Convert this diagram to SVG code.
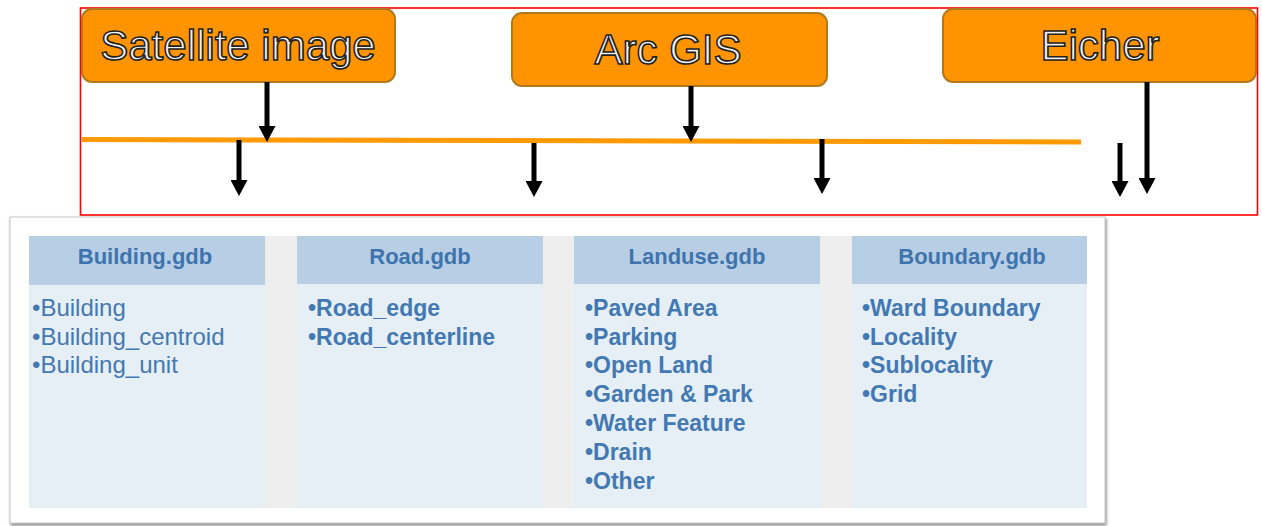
<svg xmlns="http://www.w3.org/2000/svg" width="1262" height="526" viewBox="0 0 1262 526">
<style>
.src{fill:#FF9400;stroke:#B07A1C;stroke-width:2}
.title{font-family:"Liberation Sans",Arial,sans-serif;font-size:42px;fill:#F2F2F2;stroke:#222222;stroke-width:1.6;text-anchor:middle}
.hdr{fill:#B8CEE4}
.body{fill:#E6EEF6}
.htxt{font-family:"Liberation Sans",Arial,sans-serif;font-size:22px;font-weight:bold;fill:#3E74AE;text-anchor:middle}
.item{font-family:"Liberation Sans",Arial,sans-serif;font-size:23px;font-weight:bold;fill:#4379B2}
.reg{font-weight:normal;font-size:24px}
.arr{stroke:#000;stroke-width:5;fill:none;marker-end:url(#ah)}
</style>
<defs>
<marker id="ah" markerUnits="userSpaceOnUse" markerWidth="17" markerHeight="17" refX="8" refY="8.5" orient="auto" viewBox="0 0 17 17">
<path d="M0,0 L16,8.5 L0,17 Z" fill="#000"/>
</marker>
<filter id="sh" x="-5%" y="-5%" width="110%" height="115%">
<feDropShadow dx="1" dy="2" stdDeviation="1.5" flood-color="#666" flood-opacity="0.8"/>
</filter>
</defs>
<rect width="1262" height="526" fill="#FFFFFF"/>
<rect x="80.5" y="8" width="1177" height="207" fill="none" stroke="#FF0000" stroke-width="1.6"/>
<g id="satellite">
<rect class="src" x="82" y="9" width="313" height="73" rx="10"/>
<text class="title" x="238" y="60">Satellite image</text>
</g>
<g id="arcgis">
<rect class="src" x="512" y="13" width="315" height="73" rx="10"/>
<text class="title" x="668" y="64">Arc GIS</text>
</g>
<g id="eicher">
<rect class="src" x="943" y="9" width="313" height="73" rx="10"/>
<text class="title" x="1100" y="60">Eicher</text>
</g>
<g id="connectors">
<line x1="82" y1="139.5" x2="1081" y2="142" stroke="#FF9A00" stroke-width="5"/>
<line class="arr" x1="267" y1="82" x2="267" y2="134"/>
<line class="arr" x1="691" y1="86" x2="691" y2="134"/>
<line class="arr" x1="1147" y1="82" x2="1147" y2="186"/>
<line class="arr" x1="239" y1="140" x2="239" y2="188"/>
<line class="arr" x1="534" y1="143" x2="534" y2="189"/>
<line class="arr" x1="822" y1="139" x2="822" y2="186"/>
<line class="arr" x1="1120" y1="143" x2="1120" y2="189"/>
</g>
<g id="panel">
<rect x="10" y="217" width="1095" height="306" fill="#FFFFFF" stroke="#C8C8C8" stroke-width="1" filter="url(#sh)"/>
<rect x="29" y="236" width="1058" height="272" fill="#EEEEEE"/>
</g>
<g id="building">
<rect class="hdr" x="29" y="236" width="236" height="49"/>
<rect class="body" x="29" y="285" width="236" height="223"/>
<text class="htxt" x="145" y="264">Building.gdb</text>
<text class="item reg" x="32" y="316">•Building</text>
<text class="item reg" x="32" y="345">•Building_centroid</text>
<text class="item reg" x="32" y="373">•Building_unit</text>
</g>
<g id="road">
<rect class="hdr" x="297" y="236" width="246" height="48"/>
<rect class="body" x="297" y="284" width="246" height="224"/>
<text class="htxt" x="420" y="264">Road.gdb</text>
<text class="item" x="308" y="316">•Road_edge</text>
<text class="item" x="308" y="345">•Road_centerline</text>
</g>
<g id="landuse">
<rect class="hdr" x="574" y="236" width="246" height="48"/>
<rect class="body" x="574" y="284" width="246" height="224"/>
<text class="htxt" x="697" y="264">Landuse.gdb</text>
<text class="item" x="585" y="316">•Paved Area</text>
<text class="item" x="585" y="345">•Parking</text>
<text class="item" x="585" y="373">•Open Land</text>
<text class="item" x="585" y="402">•Garden &amp; Park</text>
<text class="item" x="585" y="431">•Water Feature</text>
<text class="item" x="585" y="460">•Drain</text>
<text class="item" x="585" y="489">•Other</text>
</g>
<g id="boundary">
<rect class="hdr" x="852" y="236" width="235" height="48"/>
<rect class="body" x="852" y="284" width="235" height="224"/>
<text class="htxt" x="972" y="264">Boundary.gdb</text>
<text class="item" x="862" y="316">•Ward Boundary</text>
<text class="item" x="862" y="345">•Locality</text>
<text class="item" x="862" y="373">•Sublocality</text>
<text class="item" x="862" y="402">•Grid</text>
</g>
</svg>
